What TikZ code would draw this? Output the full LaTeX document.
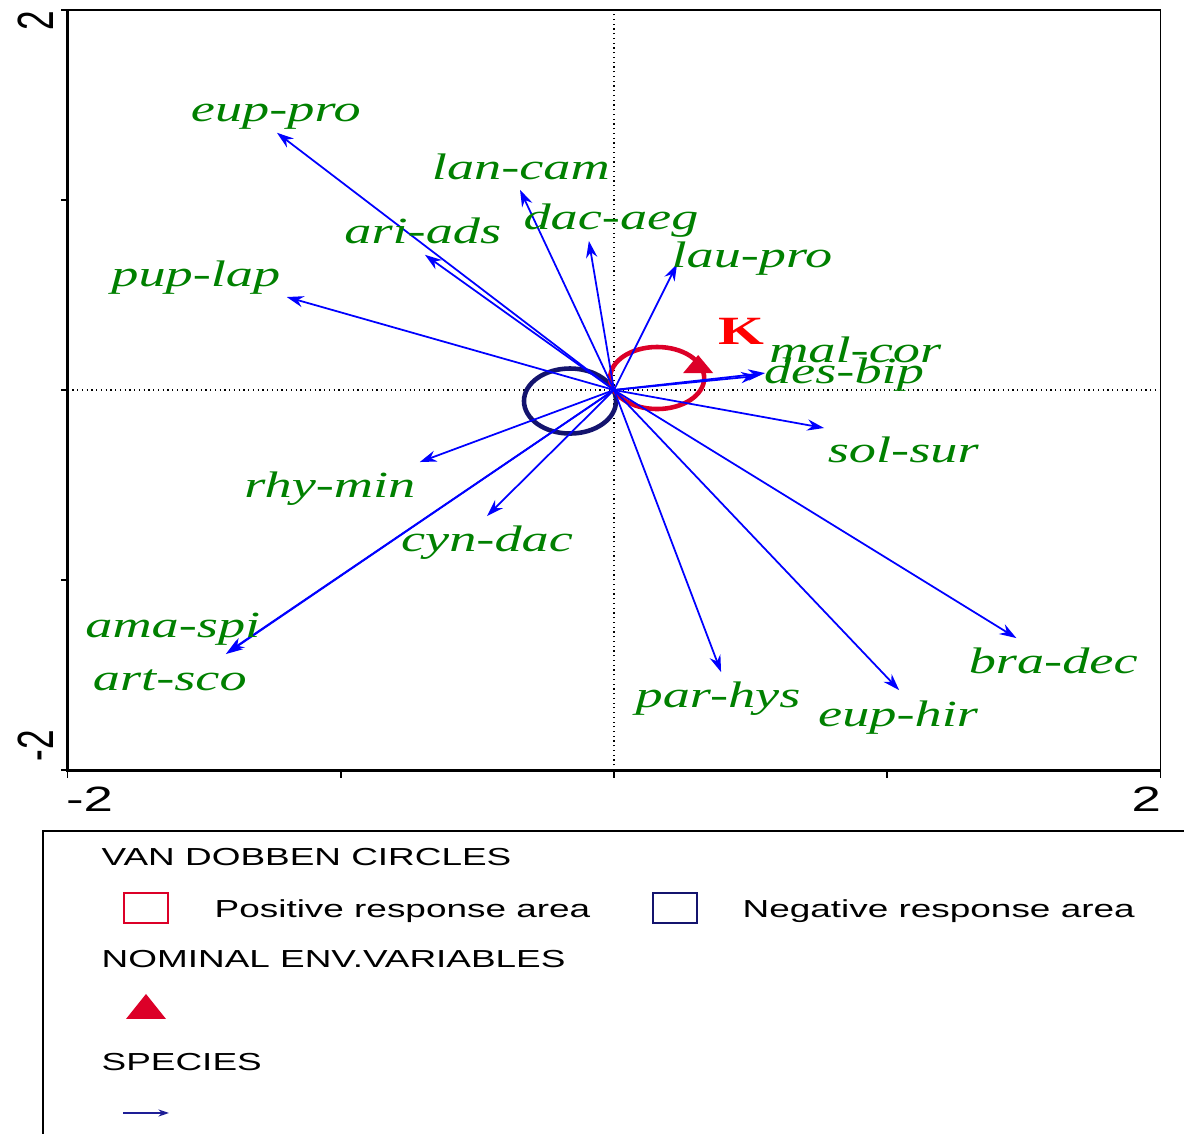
\documentclass[tikz,border=0pt]{standalone}
\usepackage{fontspec}
\setmainfont{Liberation Serif}
\newfontfamily\spfont[FakeStretch=1.47]{Liberation Serif}
\newfontfamily\lgfont[FakeStretch=1.5]{Liberation Sans}
\newfontfamily\axfont{Liberation Sans}
\usetikzlibrary{positioning, arrows.meta}
\definecolor{spgreen}{RGB}{0,128,0}
\definecolor{posred}{RGB}{220,0,40}
\definecolor{negblue}{RGB}{20,20,110}
\definecolor{kred}{RGB}{255,0,0}
\definecolor{legblue}{RGB}{30,30,150}

\begin{document}
\begin{tikzpicture}[>=Stealth, x=0.01cm, y=-0.01cm,
  spec/.style={blue, line width=0.5pt, -{Stealth[length=4.8pt, width=3.2pt]}},
  splabel/.style={spgreen, font=\spfont\itshape\fontsize{10.5}{12}\selectfont, inner sep=0pt, anchor=base},
  legtext/.style={font=\lgfont\fontsize{7}{8}\selectfont, inner sep=0pt, anchor=base west},
  axnum/.style={font=\lgfont\fontsize{10}{12}\selectfont, inner sep=0pt},
  legbox/.style={minimum width=0.44cm, minimum height=0.30cm, inner sep=0pt, line width=0.5pt}]
  \useasboundingbox (0,0) rectangle (1184,1134);
  \clip (0,0) rectangle (1184,1134);

  % Legend
  \draw[line width=0.8pt] (1250,831) -- (43,831) -- (43,1250);
  \node[legtext] (vdTitle) at (101,866) {VAN DOBBEN CIRCLES};
  \node[legbox, draw=posred] (posBox) at (146,908) {};
  \node[legtext] (posText) at (214,918) {Positive response area};
  \node[legbox, draw=negblue] (negBox) at (675,908) {};
  \node[legtext] (negText) at (742,918) {Negative response area};
  \node[legtext] (nomTitle) at (101,968) {NOMINAL ENV.VARIABLES};
  \fill[posred] (126,1019) -- (166,1019) -- (146,994) -- cycle;
  \node[legtext] (spTitle) at (101,1071) {SPECIES};
  \coordinate (legA) at (123,1113);
  \coordinate (legB) at (169,1113);
  \draw[legblue, line width=0.4pt, -{Stealth[length=3pt, width=2pt]}] (legA) -- (legB);

  \begin{scope}[shift={(614,390)}, x=2.73cm, y=1.9cm]
    % Axes through origin
    \draw[densely dotted, line width=0.35pt] (0,-2) -- (0,2);
    \draw[densely dotted, line width=0.35pt] (-2,0) -- (2,0);

    % Frame and ticks
    \draw[line width=0.45pt] (-2,-2) rectangle (2,2);
    \draw[line width=0.9pt] (-2,2) -- (-2,-2) -- (2,-2);
    \draw[line width=0.45pt] (-2,-2) -- ++(0,-0.04) (-1,-2) -- ++(0,-0.04)
      (0,-2) -- ++(0,-0.04) (1,-2) -- ++(0,-0.04) (2,-2) -- ++(0,-0.04);
    \draw[line width=0.45pt] (-2,-2) -- ++(-0.025,0) (-2,-1) -- ++(-0.025,0)
      (-2,0) -- ++(-0.025,0) (-2,1) -- ++(-0.025,0) (-2,2) -- ++(-0.025,0);
    \node[axnum] (xMin) at (-1.92,-2.155) {-2};
    \node[axnum] (xMax) at (1.949,-2.155) {2};
    \node[inner sep=0pt, font=\axfont\fontsize{10}{12}\selectfont] (yMax) at (-2.117,1.94) {\scalebox{1.45}[1]{\rotatebox{90}{2}}};
    \node[inner sep=0pt, font=\axfont\fontsize{10}{12}\selectfont] (yMin) at (-2.117,-1.87) {\scalebox{1.45}[1]{\rotatebox{90}{-2}}};

    % Van Dobben circles
    \draw[negblue, line width=1.3pt] (-0.161,-0.058) ellipse [x radius=0.46cm, y radius=0.325cm];
    \draw[posred, line width=1.3pt] (0.158,0.063) ellipse [x radius=0.47cm, y radius=0.31cm];
    \fill[posred] (0.308,0.089) ++(-0.15cm,0) -- ++(0.30cm,0) -- ++(-0.15cm,0.18cm) -- cycle;
    \node[kred, font=\spfont\bfseries\fontsize{11.4}{13}\selectfont, inner sep=0pt, anchor=base] (kVar) at (0.465,0.237) {K};

    % Species arrows
    \coordinate (O) at (0,0);
    \coordinate (tEupPro) at (-1.234,1.353);
    \coordinate (tLanCam) at (-0.344,1.053);
    \coordinate (tDacAeg) at (-0.092,0.784);
    \coordinate (tAriAds) at (-0.692,0.711);
    \coordinate (tLauPro) at (0.231,0.663);
    \coordinate (tPupLap) at (-1.198,0.489);
    \coordinate (tMalCor) at (0.553,0.089);
    \coordinate (tDesBip) at (0.527,0.074);
    \coordinate (tSolSur) at (0.769,-0.200);
    \coordinate (tRhyMin) at (-0.711,-0.379);
    \coordinate (tCynDac) at (-0.465,-0.663);
    \coordinate (tAmaSpi) at (-1.414,-1.379);
    \coordinate (tArtSco) at (-1.421,-1.389);
    \coordinate (tParHys) at (0.392,-1.484);
    \coordinate (tEupHir) at (1.044,-1.579);
    \coordinate (tBraDec) at (1.473,-1.305);

    \draw[spec] (O) -- (tEupPro);
    \draw[spec] (O) -- (tLanCam);
    \draw[spec] (O) -- (tDacAeg);
    \draw[spec] (O) -- (tAriAds);
    \draw[spec] (O) -- (tLauPro);
    \draw[spec] (O) -- (tPupLap);
    \draw[spec] (O) -- (tMalCor);
    \draw[spec] (O) -- (tDesBip);
    \draw[spec] (O) -- (tSolSur);
    \draw[spec] (O) -- (tRhyMin);
    \draw[spec] (O) -- (tCynDac);
    \draw[spec] (O) -- (tAmaSpi);
    \draw[spec] (O) -- (tArtSco);
    \draw[spec] (O) -- (tParHys);
    \draw[spec] (O) -- (tEupHir);
    \draw[spec] (O) -- (tBraDec);

    % Species labels
    \node[splabel] (eupPro) at (-1.238,1.411) {eup-pro};
    \node[splabel] (lanCam) at (-0.341,1.105) {lan-cam};
    \node[splabel] (dacAeg) at (-0.011,0.842) {dac-aeg};
    \node[splabel] (ariAds) at (-0.700,0.768) {ari-ads};
    \node[splabel] (lauPro) at (0.505,0.642) {lau-pro};
    \node[splabel] (pupLap) at (-1.531,0.542) {pup-lap};
    \node[splabel] (malCor) at (0.883,0.142) {mal-cor};
    \node[splabel] (desBip) at (0.842,0.032) {des-bip};
    \node[splabel] (solSur) at (1.059,-0.384) {sol-sur};
    \node[splabel] (rhyMin) at (-1.040,-0.568) {rhy-min};
    \node[splabel] (cynDac) at (-0.465,-0.847) {cyn-dac};
    \node[splabel] (amaSpi) at (-1.615,-1.300) {ama-spi};
    \node[splabel] (artSco) at (-1.626,-1.579) {art-sco};
    \node[splabel] (parHys) at (0.381,-1.668) {par-hys};
    \node[splabel] (eupHir) at (1.040,-1.768) {eup-hir};
    \node[splabel] (braDec) at (1.608,-1.489) {bra-dec};
  \end{scope}
\end{tikzpicture}
\end{document}
